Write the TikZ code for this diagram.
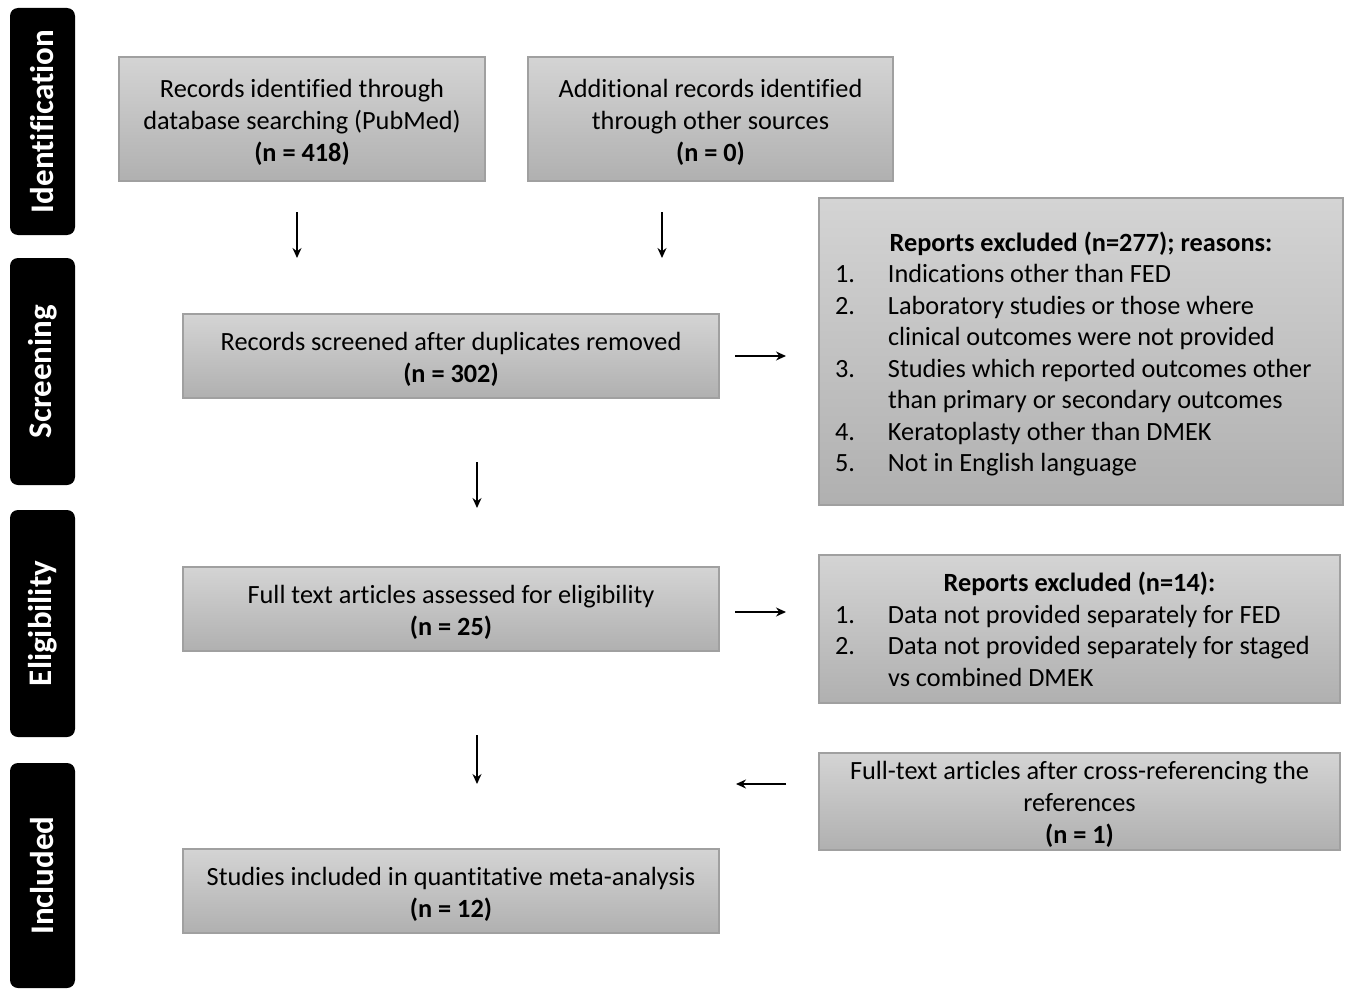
\documentclass[tikz,border=0pt]{standalone}
\usepackage{fontspec}
\setmainfont{Carlito}[Ligatures={NoCommon}]
\usetikzlibrary{arrows.meta}
\definecolor{boxline}{RGB}{160,160,160}
\definecolor{boxtop}{RGB}{212,212,212}
\definecolor{boxbot}{RGB}{176,176,176}
\newcommand\fbtext[2]{\parbox{#1}{\centering\vspace*{6pt}#2}}
\newcommand\lbtext[2]{\parbox{#1}{\vspace*{7pt}#2}}
\tikzset{
  stage/.style={fill=black, rounded corners=8pt, minimum width=65pt, text=white,
    font=\fontsize{33}{38}\selectfont\bfseries, inner sep=0pt},
  flowbox/.style={draw=boxline, line width=1.3pt, top color=boxtop, bottom color=boxbot,
    align=center, font=\fontsize{26.3}{32}\selectfont, inner sep=0pt},
  listbox/.style={draw=boxline, line width=1.3pt, top color=boxtop, bottom color=boxbot,
    font=\fontsize{26.3}{31.5}\selectfont, inner sep=0pt},
  arr/.style={line width=1.4pt, -{Stealth[length=10pt,width=9pt]}}
}
\begin{document}
\begin{tikzpicture}[x=1pt,y=-1pt]
\useasboundingbox (0,0) rectangle (1345,990);
% stages
\node[stage, minimum height=227pt] (st1) at (42.5,121.5) {\rotatebox{90}{Identification}};
\node[stage, minimum height=227pt] (st2) at (42.5,371.5) {\rotatebox{90}{Screening}};
\node[stage, minimum height=227pt] (st3) at (42.5,623.5) {\rotatebox{90}{Eligibility}};
\node[stage, minimum height=225pt] (st4) at (42.5,875.5) {\rotatebox{90}{Included}};
% boxes
\node[flowbox, minimum width=366pt, minimum height=124pt] (b1) at (302,119)
  {\fbtext{360pt}{Records identified through\\database searching (PubMed)\\\textbf{(n = 418)}}};
\node[flowbox, minimum width=365pt, minimum height=124pt] (b2) at (710.5,119)
  {\fbtext{360pt}{Additional records identified\\through other sources\\\textbf{(n = 0)}}};
\node[flowbox, minimum width=536pt, minimum height=84pt] (scr) at (451,356)
  {\fbtext{530pt}{Records screened after duplicates removed\\\textbf{(n = 302)}}};
\node[flowbox, minimum width=536pt, minimum height=84pt] (ft) at (451,609)
  {\fbtext{530pt}{Full text articles assessed for eligibility\\\textbf{(n = 25)}}};
\node[flowbox, minimum width=536pt, minimum height=84pt] (inc) at (451,891)
  {\fbtext{530pt}{Studies included in quantitative meta-analysis\\\textbf{(n = 12)}}};
\node[flowbox, minimum width=521pt, minimum height=97pt] (cr) at (1079.5,801.5)
  {\fbtext{515pt}{Full-text articles after cross-referencing the\\references\\\textbf{(n = 1)}}};
\node[listbox, minimum width=524pt, minimum height=307pt] (ex1) at (1081,351.5)
  {\lbtext{492pt}{\begin{tabular}{@{}p{53pt}@{}p{439pt}@{}}
   \multicolumn{2}{@{}c@{}}{\bfseries Reports excluded (n=277); reasons:}\\
   1. & Indications other than FED\\
   2. & Laboratory studies or those where\\
      & clinical outcomes were not provided\\
   3. & Studies which reported outcomes other\\
      & than primary or secondary outcomes\\
   4. & Keratoplasty other than DMEK\\
   5. & Not in English language
   \end{tabular}}};
\node[listbox, minimum width=521pt, minimum height=148pt] (ex2) at (1079.5,629)
  {\lbtext{489pt}{\begin{tabular}{@{}p{53pt}@{}p{436pt}@{}}
   \multicolumn{2}{@{}c@{}}{\bfseries Reports excluded (n=14):}\\
   1. & Data not provided separately for FED\\
   2. & Data not provided separately for staged\\
      & vs combined DMEK
   \end{tabular}}};
% arrow end points
\coordinate (a1s) at (297,212); \coordinate (a1e) at (297,258);
\coordinate (a2s) at (662,212); \coordinate (a2e) at (662,258);
\coordinate (a3s) at (735,356); \coordinate (a3e) at (786,356);
\coordinate (a4s) at (477,462); \coordinate (a4e) at (477,508);
\coordinate (a5s) at (735,612); \coordinate (a5e) at (786,612);
\coordinate (a6s) at (477,735); \coordinate (a6e) at (477,784);
\coordinate (a7s) at (786,784); \coordinate (a7e) at (736,784);
\draw[arr] (a1s) -- (a1e);
\draw[arr] (a2s) -- (a2e);
\draw[arr] (a3s) -- (a3e);
\draw[arr] (a4s) -- (a4e);
\draw[arr] (a5s) -- (a5e);
\draw[arr] (a6s) -- (a6e);
\draw[arr] (a7s) -- (a7e);
\end{tikzpicture}
\end{document}
